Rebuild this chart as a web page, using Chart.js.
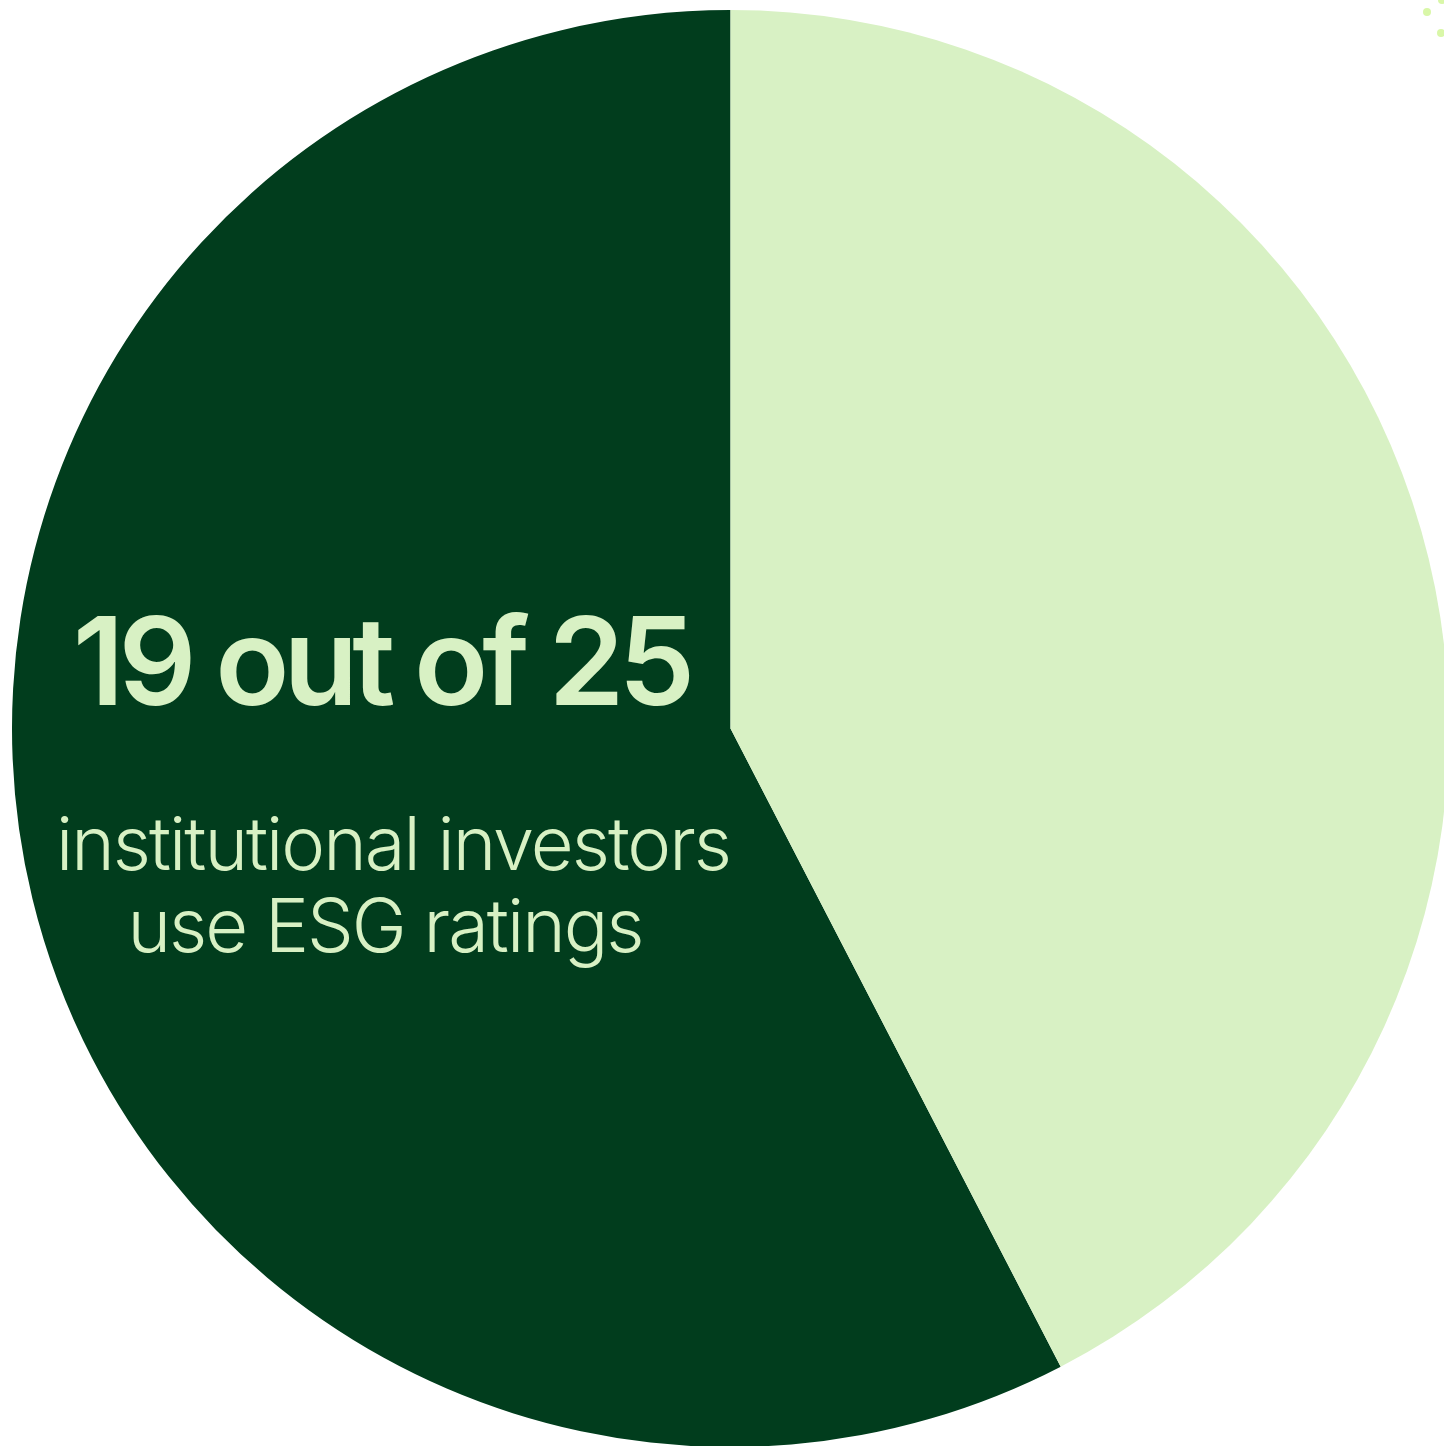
<!DOCTYPE html>
<html>
<head>
<meta charset="utf-8">
<script src="https://cdn.jsdelivr.net/npm/chart.js@4.4.1/dist/chart.umd.min.js"></script>
<style>
  html, body { margin: 0; padding: 0; background: #fff; overflow: hidden; }
  #wrap { position: absolute; left: 0; top: 0; width: 1462px; height: 1457px; }
  .dot { position: absolute; width: 8px; height: 8px; border-radius: 50%; background: #d9f7a8; }
</style>
</head>
<body>
<div id="wrap"><canvas id="esgPie"></canvas></div>
<div class="dot" style="left:1423px;top:8px"></div>
<div class="dot" style="left:1437px;top:29px"></div>
<div class="dot" style="left:1438px;top:-4px"></div>
<script>
/* ESG ratings pie */
const labels = ['Use ESG ratings', 'Other'];
const shares = [57.6, 42.4];
const colors = ['#013d1d', '#d8f1c4'];
const headline = '19 out of 25';
const caption = ['institutional investors', 'use ESG ratings'];

const textPlugin = {
  id: 'centerText',
  afterDraw(chart) {
    const ctx = chart.ctx;
    ctx.save();
    ctx.fillStyle = '#d8f1c4';
    ctx.textAlign = 'center';
    ctx.textBaseline = 'alphabetic';
    ctx.letterSpacing = '-6px';
    ctx.font = '600 122px Inter';
    ctx.fillText(headline, 381, 705);
    ctx.letterSpacing = '-2px';
    ctx.font = '300 74px Inter';
    ctx.fillText(caption[0], 393, 870);
    ctx.fillText(caption[1], 385, 952);
    ctx.restore();
  }
};

const el = document.getElementById('esgPie');
if (el) {
  new Chart(el, {
    type: 'pie',
    data: {
      labels: labels,
      datasets: [{ data: shares, backgroundColor: colors, borderWidth: 0 }]
    },
    options: {
      responsive: true,
      maintainAspectRatio: false,
      animation: false,
      // dark slice ends at 12 o'clock, light slice runs clockwise from there
      rotation: 360 * shares[1] / 100,
      layout: { padding: { left: 12, top: 10, right: 13, bottom: 10 } },
      plugins: { legend: { display: false }, tooltip: { enabled: false } }
    },
    plugins: [textPlugin]
  });
}
</script>
</body>
</html>
